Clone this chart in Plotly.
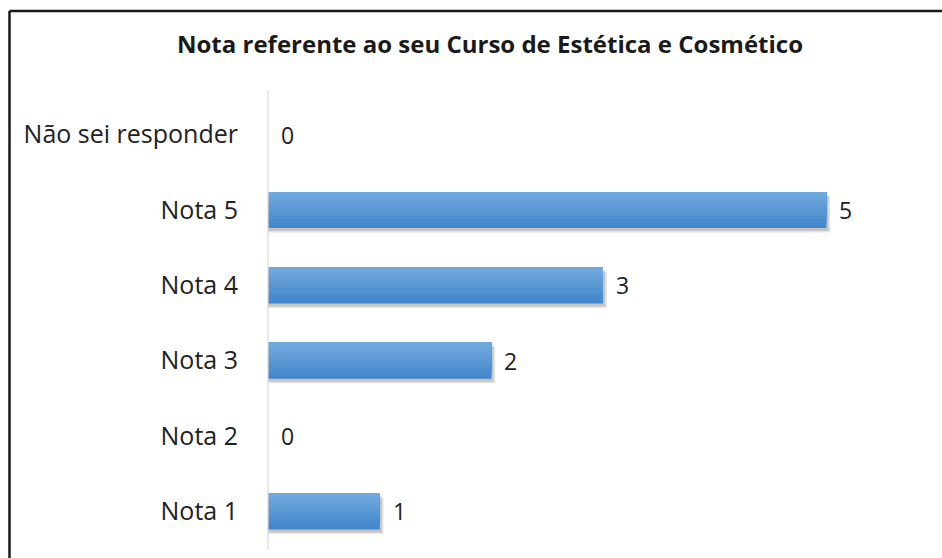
import plotly.graph_objects as go

categories = ["Nota 1", "Nota 2", "Nota 3", "Nota 4", "Nota 5", "Não sei responder"]
values = [1, 0, 2, 3, 5, 0]
title_text = "Nota referente ao seu Curso de Estética e Cosmético"

W, H = 942, 558
L, R, T, B = 268, 4, 97, 9
x_max = 6.0
pw, ph = W - L - R, H - T - B

FONT = "Open Sans, Lato, sans-serif"
bar_w = 0.48
n_strips = 12
top_col = (113, 169, 222)
bot_col = (67, 134, 203)

fig = go.Figure()

# shadow (two soft layers)
for dx, dy, a in [(0.035, 0.06, 0.10), (0.02, 0.04, 0.14)]:
    fig.add_trace(go.Bar(
        y=categories, x=[v + dx if v > 0 else 0 for v in values], orientation="h",
        width=bar_w, offset=-bar_w / 2 - dy,
        marker=dict(color="rgba(0,0,0,%.2f)" % a, line=dict(width=0)),
        hoverinfo="skip", showlegend=False,
    ))

# gradient: each layer covers from its start up to bar top (no seams)
sw = bar_w / n_strips
for i in range(n_strips):
    t = i / (n_strips - 1)  # 0 bottom -> 1 top
    c = tuple(int(round(bot_col[k] + (top_col[k] - bot_col[k]) * t)) for k in range(3))
    fig.add_trace(go.Bar(
        y=categories, x=values, orientation="h",
        width=bar_w - i * sw, offset=-bar_w / 2 + i * sw,
        marker=dict(color="rgb(%d,%d,%d)" % c, line=dict(width=0)),
        showlegend=False,
    ))

for cat, v in zip(categories, values):
    fig.add_annotation(
        x=v, y=cat, xref="x", yref="y", text=str(v), showarrow=False,
        xanchor="left", yanchor="middle", xshift=11,
        font=dict(family=FONT, size=23, color="#222222"),
    )

def px_x(p):
    return (p - L) / pw

def px_y(p):
    return 1 - (p - T) / ph

border = dict(color="#1a1a1a", width=2.5)
fig.add_shape(type="line", xref="paper", yref="paper",
              x0=px_x(9.5), x1=px_x(9.5), y0=px_y(11), y1=px_y(600), line=border)
fig.add_shape(type="line", xref="paper", yref="paper",
              x0=px_x(9.5), x1=px_x(960), y0=px_y(11), y1=px_y(11), line=border)
# vertical axis line
fig.add_shape(type="line", xref="paper", yref="paper",
              x0=0, x1=0, y0=px_y(91), y1=px_y(549),
              line=dict(color="#d9d9d9", width=1.2))

fig.update_layout(
    width=W, height=H,
    margin=dict(l=L, r=R, t=T, b=B),
    paper_bgcolor="white", plot_bgcolor="white",
    barmode="overlay",
    title=dict(text="<b>" + title_text + "</b>", x=490 / W, xanchor="center",
               y=1 - 45 / H, yanchor="middle",
               font=dict(family=FONT, size=24, color="#1a1a1a")),
    xaxis=dict(range=[0, x_max], visible=False, fixedrange=True),
    yaxis=dict(type="category", categoryorder="array", categoryarray=categories,
               range=[-0.5, len(categories) - 0.5],
               showgrid=False, zeroline=False, showline=False, fixedrange=True,
               ticks="outside", ticklen=24, tickcolor="rgba(0,0,0,0)",
               tickfont=dict(family=FONT, size=25, color="#222222")),
    font=dict(family=FONT),
)

fig.write_html("out.html", config={"displayModeBar": False},
               post_script="document.body.style.margin='0';document.body.style.overflow='hidden';")
